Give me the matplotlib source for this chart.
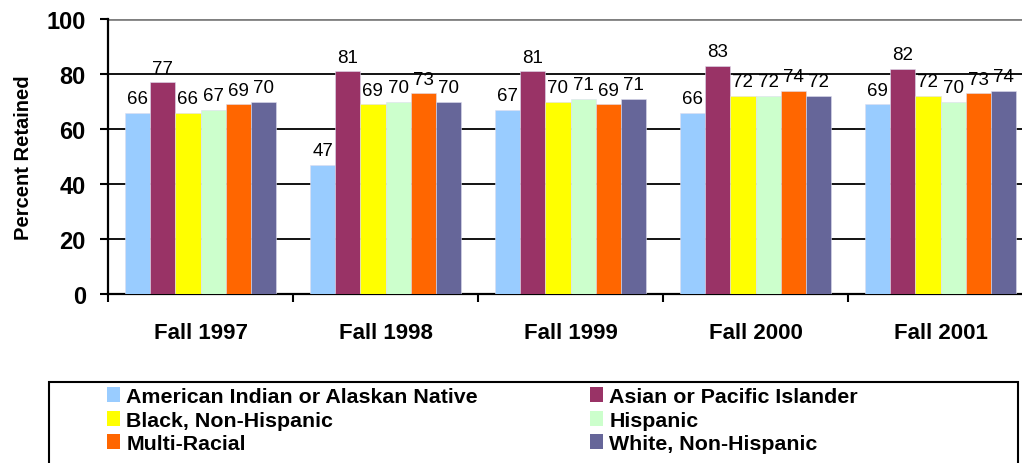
import matplotlib

matplotlib.use("Agg")
import matplotlib.pyplot as plt
import numpy as np
from matplotlib.patches import Patch, Rectangle

plt.rcParams["font.family"] = ["Liberation Sans", "DejaVu Sans"]

YEARS = ["Fall 1997", "Fall 1998", "Fall 1999", "Fall 2000", "Fall 2001"]
GROUPS = [
    "American Indian or Alaskan Native",
    "Asian or Pacific Islander",
    "Black, Non-Hispanic",
    "Hispanic",
    "Multi-Racial",
    "White, Non-Hispanic",
]
AM_INDIAN = [66, 47, 67, 66, 69]
ASIAN = [77, 81, 81, 83, 82]
BLACK = [66, 69, 70, 72, 72]
HISPANIC = [67, 70, 71, 72, 70]
MULTI = [69, 73, 69, 74, 73]
WHITE = [70, 70, 71, 72, 74]
SERIES = [AM_INDIAN, ASIAN, BLACK, HISPANIC, MULTI, WHITE]

COLORS = ["#99CCFF", "#993366", "#FFFF00", "#CCFFCC", "#FF6600", "#666699"]

W, H = 1022, 464
fig = plt.figure(figsize=(W / 100, H / 100), dpi=100)
# axes spans past the right edge like the original crop
ax = fig.add_axes([108 / W, 169 / H, 925 / W, 275 / H])

x = np.arange(len(YEARS))
bw = 0.136
for i, (vals, c) in enumerate(zip(SERIES, COLORS)):
    pos = x - 0.5 + 0.092 + bw * (i + 0.5)
    ax.bar(pos, vals, bw, color=c, edgecolor="#ddddee", linewidth=0.4, zorder=3)
    for px, v in zip(pos, vals):
        ax.annotate(str(v), (px, v), xytext=(0, 4), textcoords="offset points",
                    ha="center", va="bottom", fontsize=13.5, zorder=4)

ax.set_xlim(-0.5, len(YEARS) - 0.5)
ax.set_ylim(0, 100)
ax.set_yticks([0, 20, 40, 60, 80, 100])
for g in [20, 40, 60, 80]:
    ax.axhline(g, color="black", linewidth=1.3, zorder=1)
ax.axhline(100, color="#808080", linewidth=2, zorder=1)

ax.set_xticks(x)
ax.set_xticklabels(YEARS, fontsize=16, fontweight="bold")
ax.set_xticks(np.arange(len(YEARS) + 1) - 0.5, minor=True)
ax.tick_params(axis="x", which="major", length=0, pad=20)
ax.tick_params(axis="x", which="minor", length=6, width=1.5, direction="out")
ax.tick_params(axis="y", length=6, width=1.5, pad=10)
for lab in ax.get_yticklabels():
    lab.set_fontsize(17)
    lab.set_fontweight("bold")

for s in ["top", "right"]:
    ax.spines[s].set_visible(False)
for s in ["left", "bottom"]:
    ax.spines[s].set_linewidth(1.6)

ax.set_ylabel("Percent Retained", fontsize=14.5, fontweight="bold", labelpad=10)

# legend box (runs off the bottom of the picture)
fig.patches.append(Rectangle((49 / W, -0.1), (1018 - 49) / W, (H - 383) / H + 0.1,
                             transform=fig.transFigure, fill=False,
                             edgecolor="black", linewidth=1.5))
handles = [Patch(facecolor=c, edgecolor="none") for c in COLORS]
leg_kw = dict(frameon=False, prop={"weight": "bold", "size": 15.4},
              handlelength=0.6, handleheight=0.7, handletextpad=0.3,
              labelspacing=0.22, borderpad=0, borderaxespad=0, loc="upper left")
fig.legend([handles[0], handles[2], handles[4]], [GROUPS[0], GROUPS[2], GROUPS[4]],
           bbox_to_anchor=(107 / W, 1 - 388 / H), **leg_kw)
fig.legend([handles[1], handles[3], handles[5]], [GROUPS[1], GROUPS[3], GROUPS[5]],
           bbox_to_anchor=(590 / W, 1 - 388 / H), **leg_kw)

fig.savefig("out.png", dpi=100)
